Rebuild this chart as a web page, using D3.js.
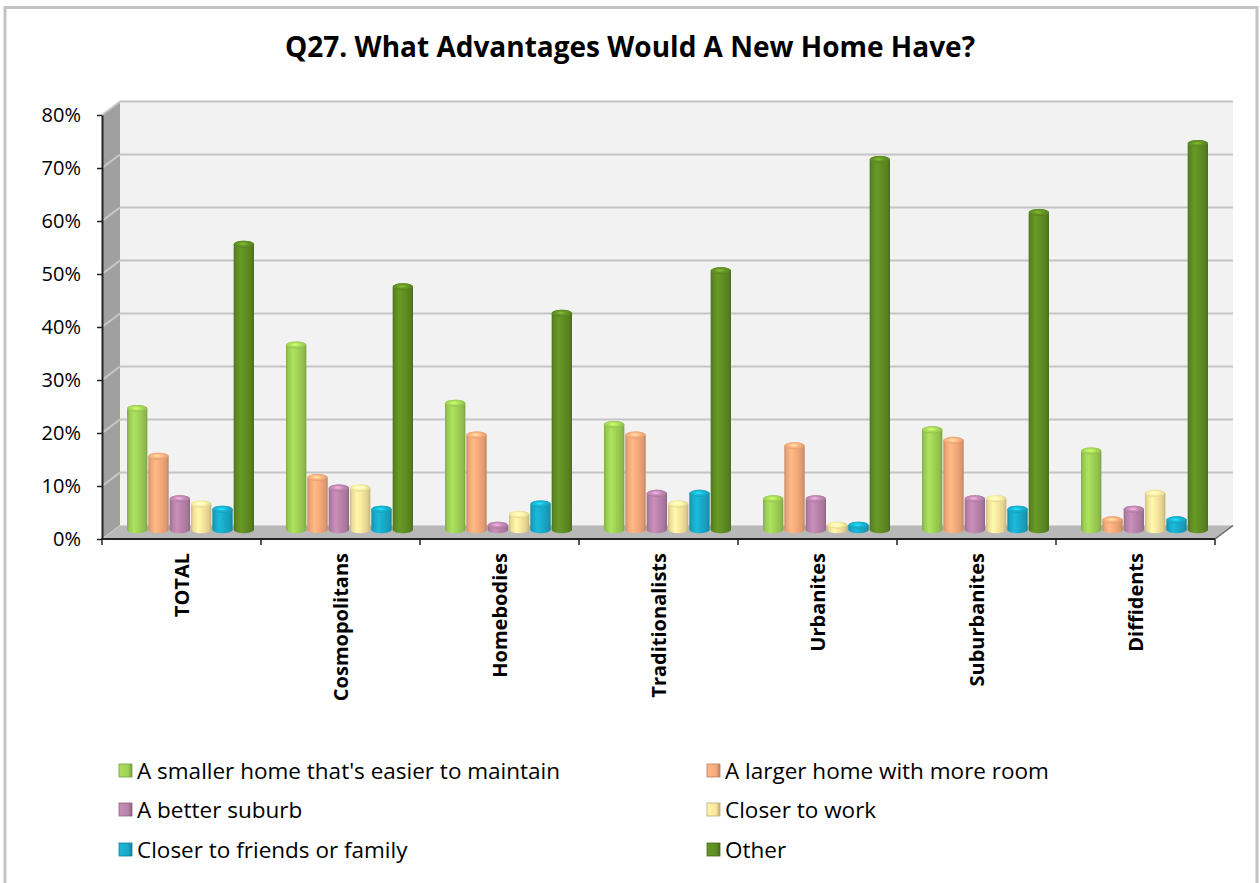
<!DOCTYPE html>
<html>
<head>
<meta charset="utf-8">
<script src="https://cdn.jsdelivr.net/npm/d3@7"></script>
<style>
  html, body { margin: 0; padding: 0; background: #fff; }
  svg { display: block; font-family: "Open Sans", "Noto Sans", sans-serif; }
</style>
</head>
<body>
<svg id="chart" width="1260" height="883"></svg>
<script>
// Survey results: share of respondents per segment naming each advantage
const categories = ["TOTAL", "Cosmopolitans", "Homebodies", "Traditionalists", "Urbanites", "Suburbanites", "Diffidents"];
const seriesNames = [
  "A smaller home that's easier to maintain",
  "A larger home with more room",
  "A better suburb",
  "Closer to work",
  "Closer to friends or family",
  "Other"
];
const smallerHome   = [0.24, 0.36, 0.25, 0.21, 0.07, 0.20, 0.16];
const largerHome    = [0.15, 0.11, 0.19, 0.19, 0.17, 0.18, 0.03];
const betterSuburb  = [0.07, 0.09, 0.02, 0.08, 0.07, 0.07, 0.05];
const closerToWork  = [0.06, 0.09, 0.04, 0.06, 0.02, 0.07, 0.08];
const closerFriends = [0.05, 0.05, 0.06, 0.08, 0.02, 0.05, 0.03];
const other         = [0.55, 0.47, 0.42, 0.50, 0.71, 0.61, 0.74];
const seriesValues = [smallerHome, largerHome, betterSuburb, closerToWork, closerFriends, other];
const seriesColors = ["#9fd156", "#f6aa7b", "#b983ab", "#f8e59d", "#19aac9", "#5f8d23"];
const yTicks = [0, 0.1, 0.2, 0.3, 0.4, 0.5, 0.6, 0.7, 0.8];

const svg = d3.select("#chart");
const defs = svg.append("defs");

// outer chart frame
svg.append("path")
  .attr("d", "M5,890 L5,7.5 L1257,7.5 L1257,890")
  .attr("fill", "none").attr("stroke", "#c3c3c3").attr("stroke-width", 3);

// title
svg.append("text")
  .attr("x", 630).attr("y", 57)
  .attr("text-anchor", "middle")
  .attr("font-size", 28).attr("font-weight", "bold").attr("fill", "#000")
  .text("Q27. What Advantages Would A New Home Have?");

// plot geometry: front face plus a receding depth offset
const front = { left: 102, right: 1215, top: 115, bottom: 539 };
const depth = { dx: 18, dy: -13.5 };

const x = d3.scaleBand().domain(categories).range([front.left, front.right]).padding(0);
const xs = d3.scaleBand().domain(seriesNames).range([15.5, x.bandwidth() - 15.5]).padding(0);
const y = d3.scaleLinear().domain([0, 0.8]).range([front.bottom, front.top]);

const g = svg.append("g");

// left side wall
g.append("path")
  .attr("d", `M${front.left},${front.top} L${front.left + depth.dx},${front.top + depth.dy} L${front.left + depth.dx},${front.bottom + depth.dy} L${front.left},${front.bottom} Z`)
  .attr("fill", "#a0a0a0");

// back wall
g.append("rect")
  .attr("x", front.left + depth.dx).attr("y", y(0.8) + depth.dy)
  .attr("width", front.right - front.left).attr("height", y(0) - y(0.8))
  .attr("fill", "#f2f2f2");

// gridlines on back and side walls
yTicks.filter(t => t > 0).forEach(t => {
  const yy = y(t);
  g.append("line")
    .attr("x1", front.left + depth.dx).attr("x2", front.right + depth.dx)
    .attr("y1", yy + depth.dy).attr("y2", yy + depth.dy)
    .attr("stroke", "#c4c4c4").attr("stroke-width", 2);
  g.append("line")
    .attr("x1", front.left).attr("y1", yy)
    .attr("x2", front.left + depth.dx).attr("y2", yy + depth.dy)
    .attr("stroke", "#c8c8c8").attr("stroke-width", 2);
});

// floor
g.append("path")
  .attr("d", `M${front.left},${front.bottom} L${front.right},${front.bottom} L${front.right + depth.dx},${front.bottom + depth.dy} L${front.left + depth.dx},${front.bottom + depth.dy} Z`)
  .attr("fill", "#b8b8b8").attr("stroke", "#d0d0d0").attr("stroke-width", 1);

// cylinder gradients per series
seriesColors.forEach((c, i) => {
  const base = d3.color(c);
  const body = defs.append("linearGradient").attr("id", "body" + i)
    .attr("x1", "0%").attr("x2", "100%").attr("y1", "0%").attr("y2", "0%");
  body.append("stop").attr("offset", "0%").attr("stop-color", base.darker(0.55));
  body.append("stop").attr("offset", "12%").attr("stop-color", base.darker(0.1));
  body.append("stop").attr("offset", "35%").attr("stop-color", base.brighter(0.25));
  body.append("stop").attr("offset", "60%").attr("stop-color", base);
  body.append("stop").attr("offset", "88%").attr("stop-color", base.darker(0.3));
  body.append("stop").attr("offset", "100%").attr("stop-color", base.darker(0.75));
  const cap = defs.append("radialGradient").attr("id", "cap" + i)
    .attr("cx", "45%").attr("cy", "45%").attr("r", "60%");
  cap.append("stop").attr("offset", "0%").attr("stop-color", base.brighter(0.9));
  cap.append("stop").attr("offset", "45%").attr("stop-color", base.brighter(0.2));
  cap.append("stop").attr("offset", "100%").attr("stop-color", base.darker(0.35));
  const lg = defs.append("linearGradient").attr("id", "leg" + i)
    .attr("x1", "0%").attr("x2", "100%");
  lg.append("stop").attr("offset", "0%").attr("stop-color", base.brighter(0.2));
  lg.append("stop").attr("offset", "70%").attr("stop-color", base);
  lg.append("stop").attr("offset", "100%").attr("stop-color", base.darker(0.8));
});

// bars as cylinders, placed halfway into the depth
const barData = [];
categories.forEach((cat, ci) => {
  seriesNames.forEach((s, si) => {
    barData.push({ cat, s, si, v: seriesValues[si][ci] });
  });
});

const ry = 3.5;
const bars = g.append("g").selectAll("g").data(barData).join("g");
bars.each(function(d) {
  const sel = d3.select(this);
  const w = xs.bandwidth();
  const xl = x(d.cat) + xs(d.s) + depth.dx / 2 + 0.5;
  const xr = xl + w - 1;
  const rx = (xr - xl) / 2;
  const yTop = y(d.v) + depth.dy / 2 + ry;
  const yBot = y(0) + depth.dy / 2 - ry + 1;
  sel.append("path")
    .attr("d", `M${xl},${yTop} L${xl},${yBot} A${rx},${ry} 0 0 0 ${xr},${yBot} L${xr},${yTop} A${rx},${ry} 0 0 0 ${xl},${yTop} Z`)
    .attr("fill", `url(#body${d.si})`);
  sel.append("ellipse")
    .attr("cx", xl + rx).attr("cy", yTop)
    .attr("rx", rx).attr("ry", ry)
    .attr("fill", `url(#cap${d.si})`);
});

// value axis
const yAxis = d3.axisLeft(y).tickValues(yTicks).tickFormat(d3.format(".0%")).tickSize(5).tickSizeOuter(0).tickPadding(16);
const ya = svg.append("g").attr("transform", `translate(${front.left},0)`).call(yAxis);
ya.select(".domain").attr("stroke", "#222").attr("stroke-width", 2);
ya.selectAll(".tick line").attr("stroke", "#222").attr("stroke-width", 1.5);
ya.selectAll(".tick text").attr("font-size", 20).attr("fill", "#000").attr("font-family", "Open Sans, sans-serif");

// category axis line and boundary ticks
svg.append("line")
  .attr("x1", front.left - 1).attr("x2", front.right)
  .attr("y1", front.bottom).attr("y2", front.bottom)
  .attr("stroke", "#222").attr("stroke-width", 2);
const bounds = categories.map(c => x(c)).concat([x.range()[1]]);
svg.append("g").selectAll("line").data(bounds).join("line")
  .attr("x1", d => d).attr("x2", d => d)
  .attr("y1", front.bottom).attr("y2", front.bottom + 6)
  .attr("stroke", "#222").attr("stroke-width", 1.5);

// right edge of floor
svg.append("line")
  .attr("x1", front.right).attr("y1", front.bottom)
  .attr("x2", front.right + depth.dx).attr("y2", front.bottom + depth.dy)
  .attr("stroke", "#666").attr("stroke-width", 1.5);

// rotated category labels
svg.append("g").selectAll("text").data(categories).join("text")
  .attr("transform", d => `translate(${x(d) + x.bandwidth() / 2 + 7},${front.bottom + 14}) rotate(-90)`)
  .attr("text-anchor", "end")
  .attr("font-size", 20).attr("font-weight", "bold").attr("fill", "#000")
  .text(d => d);

// legend: two columns, three rows
const legendPos = [
  { x: 119, y: 771 }, { x: 707, y: 771 },
  { x: 119, y: 810 }, { x: 707, y: 810 },
  { x: 119, y: 850 }, { x: 707, y: 850 }
];
const lg = svg.append("g").selectAll("g").data(seriesNames).join("g")
  .attr("transform", (d, i) => `translate(${legendPos[i].x},${legendPos[i].y})`);
lg.append("rect")
  .attr("x", 0).attr("y", -7).attr("width", 13).attr("height", 13)
  .attr("fill", (d, i) => `url(#leg${i})`)
  .attr("stroke", (d, i) => d3.color(seriesColors[i]).darker(0.8)).attr("stroke-width", 0.8);
lg.append("text")
  .attr("x", 18).attr("y", 0).attr("dy", "0.35em")
  .attr("font-size", 22.5).attr("fill", "#000")
  .text(d => d);
</script>
</body>
</html>
